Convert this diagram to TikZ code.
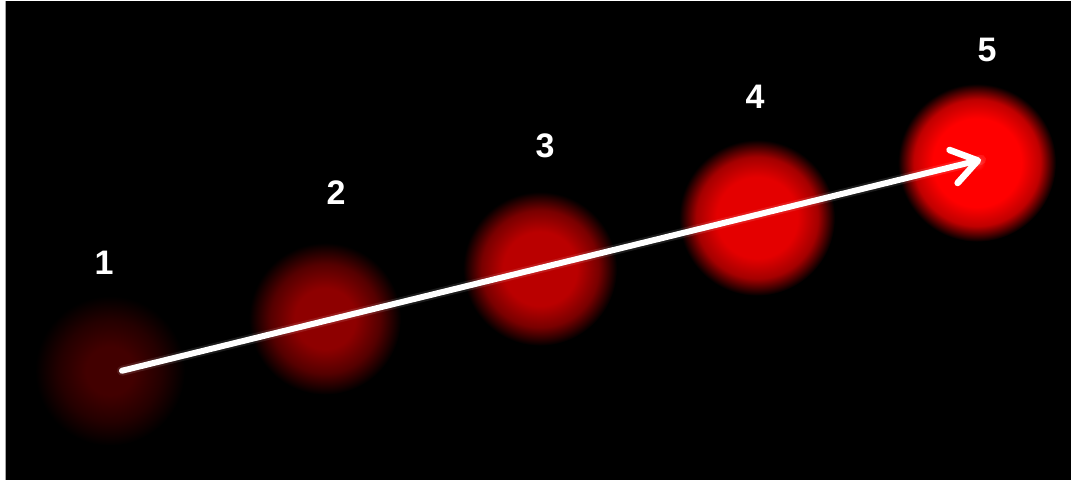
\documentclass[tikz,border=0pt]{standalone}
\usepackage{fontspec}
\setmainfont{Liberation Sans}
\usetikzlibrary{arrows.meta}
\definecolor{cA}{HTML}{420000}
\definecolor{cB}{HTML}{8E0000}
\definecolor{cC}{HTML}{BA0000}
\definecolor{cD}{HTML}{E40000}
\definecolor{cE}{HTML}{FF0000}
\pgfdeclareradialshading{shA}{\pgfpoint{0bp}{0bp}}{color(0bp)=(cA); color(8bp)=(cA); color(17bp)=(cA!55!black); color(25bp)=(black); color(50bp)=(black)}
\pgfdeclareradialshading{shB}{\pgfpoint{0bp}{0bp}}{color(0bp)=(cB); color(10bp)=(cB); color(18bp)=(cB!60!black); color(25bp)=(black); color(50bp)=(black)}
\pgfdeclareradialshading{shC}{\pgfpoint{0bp}{0bp}}{color(0bp)=(cC); color(12bp)=(cC); color(19bp)=(cC!65!black); color(25bp)=(black); color(50bp)=(black)}
\pgfdeclareradialshading{shD}{\pgfpoint{0bp}{0bp}}{color(0bp)=(cD); color(13bp)=(cD); color(19.5bp)=(cD!72!black); color(25bp)=(black); color(50bp)=(black)}
\pgfdeclareradialshading{shE}{\pgfpoint{0bp}{0bp}}{color(0bp)=(cE!80!white); color(2.5bp)=(cE); color(14bp)=(cE); color(20bp)=(cE!75!black); color(25bp)=(black); color(50bp)=(black)}
\begin{document}
\begin{tikzpicture}[x=1pt,y=-1pt,
  ball/.style={circle, minimum size=#1, inner sep=0pt, draw=none},
  num/.style={text=white, inner sep=0pt, font=\fontsize{34}{34}\selectfont\bfseries},
  arrowline/.style={white, line width=6pt, line cap=round,
    -{Straight Barb[length=25pt, width=34pt, line width=6.5pt, round]}},
  glow/.style={white, opacity=0.1, line width=10pt, line cap=round}]
\fill[white] (0,0) rectangle (1078,482);
\fill[black] (5,0) rectangle (1071,479);
\draw[gray!70, line width=1.5pt] (5.5,0) -- (5.5,479);
\useasboundingbox (0,0) rectangle (1078,482);
\node[ball=150pt, shading=shA] (b1) at (110,370) {};
\node[ball=152pt, shading=shB] (b2) at (325,318) {};
\node[ball=154pt, shading=shC] (b3) at (540,268) {};
\node[ball=156pt, shading=shD] (b4) at (757,217) {};
\node[ball=158pt, shading=shE] (b5) at (977,162) {};
\node[num] (n1) at (104,262) {1};
\node[num] (n2) at (336,192) {2};
\node[num] (n3) at (545,145) {3};
\node[num] (n4) at (755,96) {4};
\node[num] (n5) at (987,49) {5};
\coordinate (s) at (122,370);
\coordinate (t) at (981,159);
\draw[glow] (s) -- (t);
\draw[arrowline] (s) -- (t);
\end{tikzpicture}
\end{document}
